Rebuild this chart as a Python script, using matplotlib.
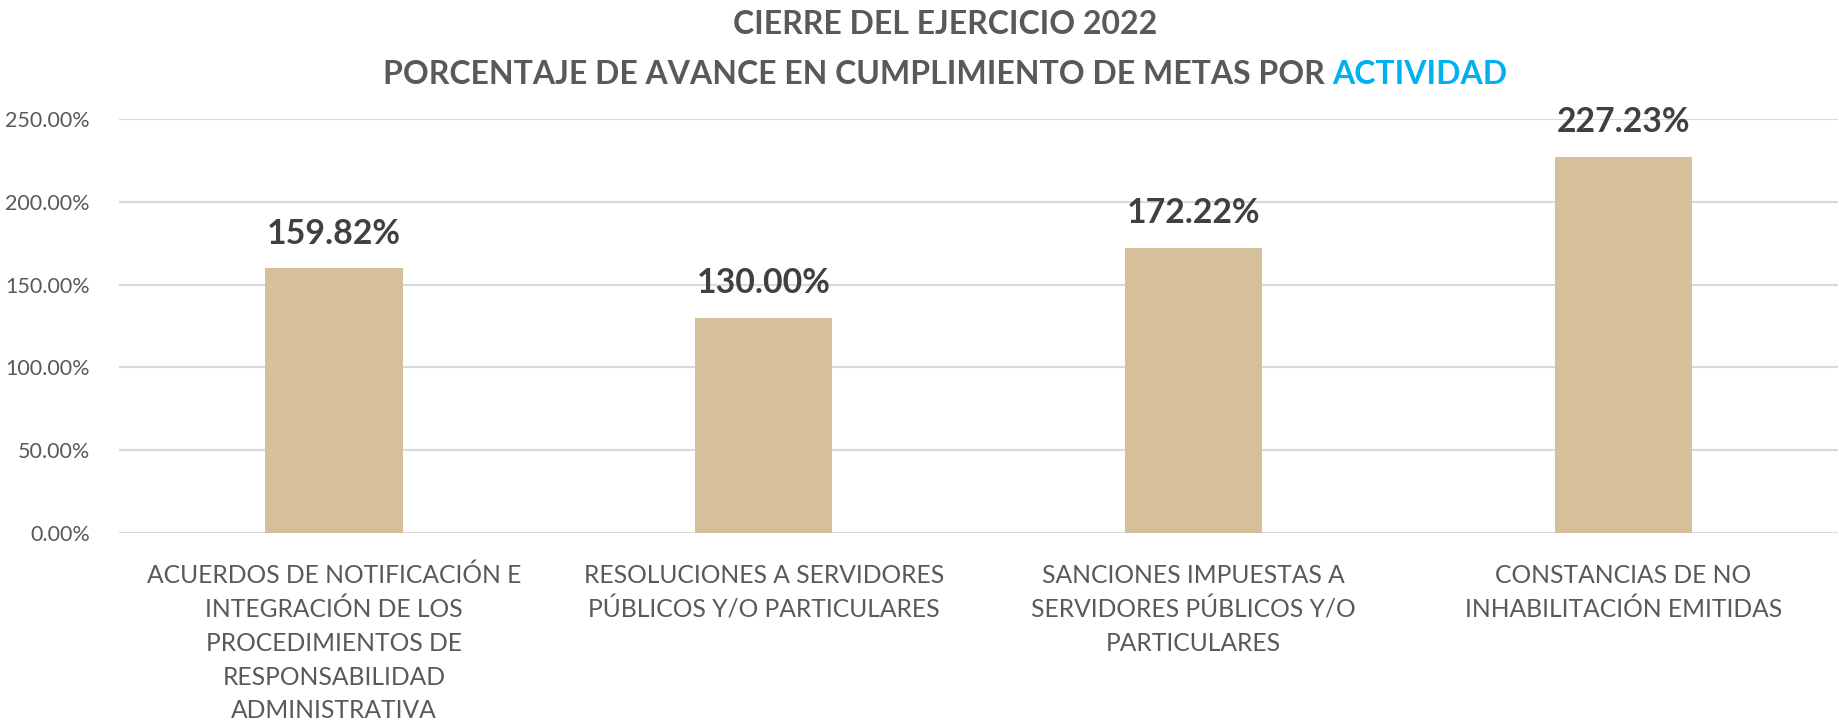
import matplotlib
matplotlib.use('Agg')
import matplotlib.pyplot as plt
from matplotlib.ticker import FuncFormatter

categories = ['ACUERDOS DE NOTIFICACIÓN E\nINTEGRACIÓN DE LOS\nPROCEDIMIENTOS DE\nRESPONSABILIDAD\nADMINISTRATIVA',
              'RESOLUCIONES A SERVIDORES\nPÚBLICOS Y/O PARTICULARES',
              'SANCIONES IMPUESTAS A\nSERVIDORES PÚBLICOS Y/O\nPARTICULARES',
              'CONSTANCIAS DE NO\nINHABILITACIÓN EMITIDAS']
values = [159.82, 130.00, 172.22, 227.23]
y_ticks = [0, 50, 100, 150, 200, 250]

bar_color = '#D5C09B'
text_dark = '#404040'
tick_color = '#595959'
blue = '#00B0F0'
font = 'Lato'

fig = plt.figure(figsize=(18.4, 7.25), dpi=100)
ax = fig.add_axes([0.0647, 0.2648, 0.9343, 0.5711])

x = range(len(values))
bars = ax.bar(x, values, width=0.32, color=bar_color, zorder=3)
ax.set_xlim(-0.5, len(values) - 0.5)
ax.set_ylim(0, 250)
ax.set_yticks(y_ticks)
ax.yaxis.set_major_formatter(FuncFormatter(lambda v, p: '%.2f%%' % v))
ax.grid(axis='y', color='#D9D9D9', linewidth=1.5, zorder=0)
for s in ax.spines.values():
    s.set_visible(False)
ax.tick_params(axis='both', length=0)
ax.tick_params(axis='y', labelsize=15.5, labelcolor=tick_color, pad=21)
for lab in ax.get_yticklabels():
    lab.set_fontfamily(font)

ax.set_xticks(list(x))
ax.set_xticklabels(categories, fontsize=17.7, color=tick_color, family=font, linespacing=1.56)
ax.tick_params(axis='x', pad=22)

for b, v in zip(bars, values):
    ax.annotate('%.2f%%' % v, (b.get_x() + b.get_width() / 2, v), xytext=(0, 25),
                textcoords='offset points', ha='center', va='center',
                fontsize=24.4, fontweight='bold', color=text_dark, family=font, clip_on=False)

# title, second line has a coloured last word
cx = 945 / 1840
fig.text(cx, 1 - 25 / 725, 'CIERRE DEL EJERCICIO 2022', ha='center', va='center',
         fontsize=23, fontweight='bold', color='#595959', family=font)
part1 = 'PORCENTAJE DE AVANCE EN CUMPLIMIENTO DE METAS POR '
part2 = 'ACTIVIDAD'
t1 = fig.text(0, 1 - 74 / 725, part1, ha='left', va='center',
              fontsize=23, fontweight='bold', color='#595959', family=font)
t2 = fig.text(0, 1 - 74 / 725, part2, ha='left', va='center',
              fontsize=23, fontweight='bold', color=blue, family=font)
fig.canvas.draw()
r = fig.canvas.get_renderer()
w1 = t1.get_window_extent(r).width
w2 = t2.get_window_extent(r).width
start = cx * fig.bbox.width - (w1 + w2) / 2
t1.set_x(start / fig.bbox.width)
t2.set_x((start + w1) / fig.bbox.width)

fig.savefig('out.png', dpi=100, facecolor='white')
